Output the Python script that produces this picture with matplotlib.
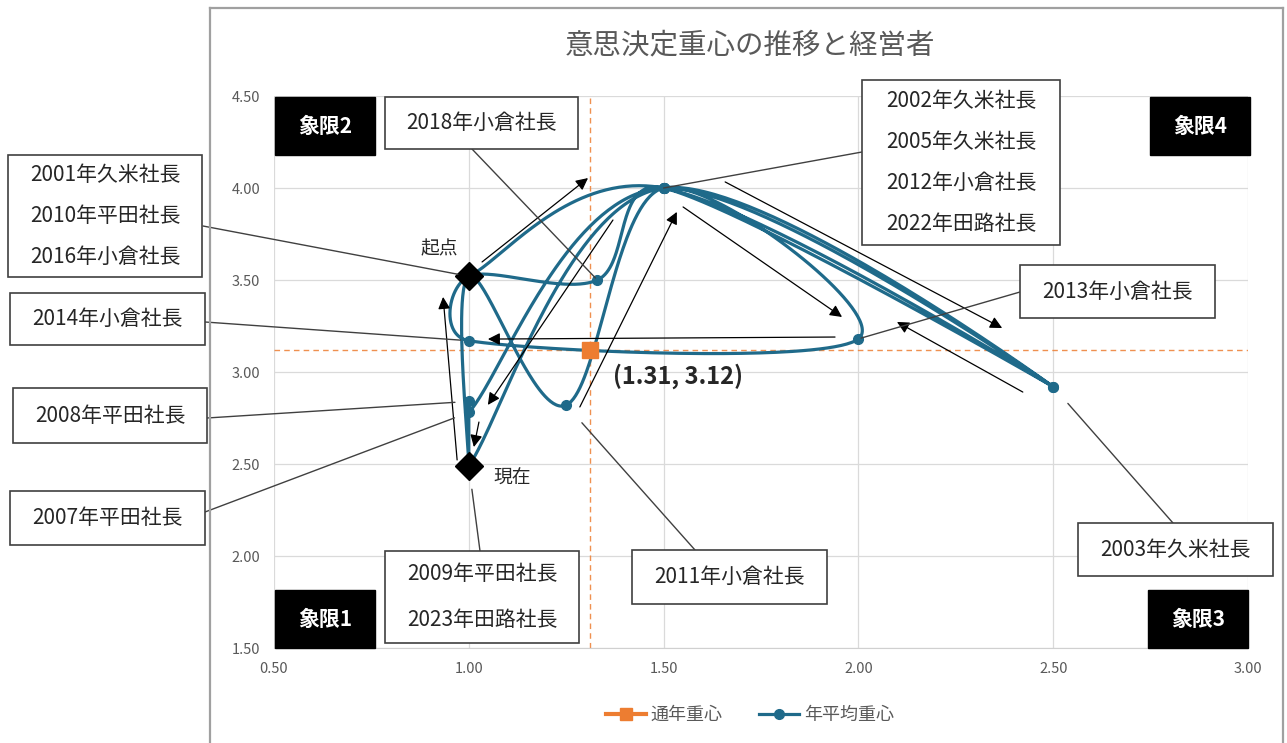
import numpy as np
import matplotlib
matplotlib.use("Agg")
import matplotlib.pyplot as plt
from matplotlib.patches import Rectangle
from matplotlib.lines import Line2D

plt.rcParams['font.family'] = ['Noto Sans CJK JP', 'DejaVu Sans']

# ---------------------------------------------------------------------------
# Datos
# ---------------------------------------------------------------------------
TITLE = "意思決定重心の推移と経営者"

# recorrido del centro de gravedad anual (2001 -> 2023), sin repeticiones seguidas
path_x = [1.00, 1.50, 2.50, 1.50, 1.00, 1.00, 1.00, 1.00, 1.25, 1.50,
          2.00, 1.00, 1.00, 1.33, 1.50, 2.50, 1.50, 1.00]
path_y = [3.52, 4.00, 2.92, 4.00, 2.78, 2.84, 2.49, 3.52, 2.82, 4.00,
          3.18, 3.17, 3.52, 3.50, 4.00, 2.92, 4.00, 2.49]

overall_x = 1.31
overall_y = 3.12

x_ticks = [0.5, 1.0, 1.5, 2.0, 2.5, 3.0]
y_ticks = [1.5, 2.0, 2.5, 3.0, 3.5, 4.0, 4.5]

legend_labels = ["通年重心", "年平均重心"]
quadrants = ["象限1", "象限2", "象限3", "象限4"]

lbl_start = ["2001年久米社長", "2010年平田社長", "2016年小倉社長"]
lbl_top = ["2002年久米社長", "2005年久米社長", "2012年小倉社長", "2022年田路社長"]
lbl_now = ["2009年平田社長", "2023年田路社長"]
lbl_2003 = ["2003年久米社長"]
lbl_2007 = ["2007年平田社長"]
lbl_2008 = ["2008年平田社長"]
lbl_2011 = ["2011年小倉社長"]
lbl_2013 = ["2013年小倉社長"]
lbl_2014 = ["2014年小倉社長"]
lbl_2018 = ["2018年小倉社長"]

BLUE = "#1F6A8A"
ORANGE = "#ED7D31"
GRAY = "#595959"
W, H = 1287, 743
SX, SY = 389.6, 184.0   # pixeles por unidad en x / y


def _clamp(v, lim):
    n = np.linalg.norm(v)
    return v if n <= lim or n == 0 else v * lim / n


def smooth(xs, ys, n=80):
    """Curva suavizada tipo Excel (Catmull-Rom -> Bezier), tangentes limitadas."""
    P = np.column_stack([np.asarray(xs) * SX, np.asarray(ys) * SY])
    pts = np.vstack([P[0], P, P[-1]])
    t = np.linspace(0, 1, n)[:, None]
    out = []
    for i in range(1, len(pts) - 2):
        p0, p1, p2, p3 = pts[i - 1:i + 3]
        d12 = np.linalg.norm(p2 - p1)
        c1 = p1 + _clamp((p2 - p0) / 6, 0.45 * d12)
        c2 = p2 - _clamp((p3 - p1) / 6, 0.45 * d12)
        out.append((1 - t) ** 3 * p1 + 3 * (1 - t) ** 2 * t * c1
                   + 3 * (1 - t) * t ** 2 * c2 + t ** 3 * p2)
    out = np.vstack(out)
    return out[:, 0] / SX, out[:, 1] / SY


def fp(x, y):
    # pixel (origen arriba-izquierda) -> fraccion de figura
    return (x / W, 1 - y / H)


fig = plt.figure(figsize=(W / 100, H / 100), dpi=100)
ax = fig.add_axes([274 / W, 1 - 648 / H, 974 / W, 552 / H])

# marco exterior del grafico
for xs_, ys_ in [([210, 210], [8, 743]), ([210, 1283], [8, 8]), ([1283, 1283], [8, 743])]:
    fig.add_artist(Line2D([x / W for x in xs_], [1 - y / H for y in ys_],
                          transform=fig.transFigure, color="#A0A0A0", lw=1.6))

fig.text(750 / W, 1 - 45 / H, TITLE, ha="center", va="center", fontsize=20.5, color=GRAY)

# ejes
ax.set_xlim(0.5, 3.0)
ax.set_ylim(1.5, 4.5)
ax.set_xticks(x_ticks)
ax.set_yticks(y_ticks)
ax.set_xticklabels([f"{v:.2f}" for v in x_ticks])
ax.set_yticklabels([f"{v:.2f}" for v in y_ticks])
ax.tick_params(length=0, labelsize=10.5, labelcolor=GRAY, pad=10)
ax.grid(True, color="#DADADA", lw=0.9)
ax.set_axisbelow(True)
for s in ax.spines.values():
    s.set_visible(False)
ax.spines["bottom"].set_visible(True)
ax.spines["bottom"].set_color("#D0D0D0")

# lineas del centro anual
ax.axvline(overall_x, color=ORANGE, lw=1.0, ls=(0, (4, 3)), alpha=0.85, zorder=2)
ax.axhline(overall_y, color=ORANGE, lw=1.0, ls=(0, (4, 3)), alpha=0.85, zorder=2)

cx, cy = smooth(path_x, path_y)
ax.plot(cx, cy, color=BLUE, lw=2.3, zorder=3, solid_capstyle="round")
ax.plot(path_x[1:-1], path_y[1:-1], "o", color=BLUE, ms=7, zorder=4)
ax.plot([path_x[0], path_x[-1]], [path_y[0], path_y[-1]], "D", color="black", ms=14, zorder=5)
ax.plot(overall_x, overall_y, "s", color=ORANGE, ms=11, zorder=5)

ax.annotate("起点", (path_x[0], path_y[0]), xytext=(-30, 27), textcoords="offset pixels",
            ha="center", va="center", fontsize=13.5, color="#262626")
ax.annotate("現在", (path_x[-1], path_y[-1]), xytext=(43, -12), textcoords="offset pixels",
            ha="center", va="center", fontsize=13.5, color="#262626")
ax.annotate(f"({overall_x:.2f}, {overall_y:.2f})", (overall_x, overall_y), xytext=(88, -26),
            textcoords="offset pixels", ha="center", va="center", fontsize=17,
            fontweight="bold", color="#262626")

# flechas de direccion (cola, cabeza)
arrows = [
    ((1.034, 3.598), (1.306, 4.054)),
    ((0.970, 2.522), (0.934, 3.408)),
    ((1.370, 3.826), (1.049, 2.821)),
    ((1.026, 2.728), (1.013, 2.592)),
    ((1.285, 2.810), (1.534, 3.870)),
    ((1.550, 3.897), (1.958, 3.299)),
    ((1.658, 4.033), (2.369, 3.239)),
    ((2.422, 2.891), (2.099, 3.272)),
    ((1.940, 3.190), (1.049, 3.179)),
]
for tail, head in arrows:
    ax.annotate("", xy=head, xytext=tail,
                arrowprops=dict(arrowstyle="-|>", color="black", lw=0.9,
                                mutation_scale=18, shrinkA=0, shrinkB=0), zorder=6)


def label_box(x0, y0, x1, y1, lines, src, pt, shrink):
    fig.add_artist(Rectangle(fp(x0, y1), (x1 - x0) / W, (y1 - y0) / H,
                             transform=fig.transFigure, fc="white", ec="#404040",
                             lw=1.2, zorder=5))
    step = (y1 - y0) / len(lines)
    for k, s in enumerate(lines):
        ty = y0 + step * (k + 0.5)
        fig.text((x0 + x1) / 2 / W, 1 - ty / H, s, ha="center", va="center",
                 fontsize=15, color="#262626", zorder=6)
    ax.annotate("", xy=pt, xycoords="data", xytext=fp(*src), textcoords="figure fraction",
                arrowprops=dict(arrowstyle="-", color="#404040", lw=1.0,
                                shrinkA=0, shrinkB=shrink),
                annotation_clip=False, zorder=6)


label_box(8, 155, 202, 277, lbl_start, (203, 226), (path_x[0], path_y[0]), 8)
label_box(10, 293, 205, 345, lbl_2014, (205, 322), (path_x[11], path_y[11]), 6)
label_box(13, 388, 207, 443, lbl_2008, (207, 418), (path_x[5], path_y[5]), 10)
label_box(10, 491, 205, 545, lbl_2007, (205, 512), (path_x[4], path_y[4]), 11)
label_box(385, 551, 579, 643, lbl_now, (480, 551), (path_x[-1], path_y[-1]), 17)
label_box(632, 550, 827, 604, lbl_2011, (695, 550), (path_x[8], path_y[8]), 17)
label_box(385, 97, 578, 149, lbl_2018, (472, 149), (path_x[13], path_y[13]), 2)
label_box(862, 80, 1060, 245, lbl_top, (862, 152), (path_x[1], path_y[1]), 0)
label_box(1020, 265, 1215, 318, lbl_2013, (1020, 292), (path_x[10], path_y[10]), 2)
label_box(1078, 523, 1273, 576, lbl_2003, (1173, 523), (path_x[2], path_y[2]), 16)

# cuadrantes
quad_pos = [(275, 590), (275, 97), (1148, 590), (1150, 97)]
for name, (qx, qy) in zip(quadrants, quad_pos):
    fig.add_artist(Rectangle(fp(qx, qy + 58), 100 / W, 58 / H, transform=fig.transFigure,
                             fc="black", ec="black", zorder=5))
    fig.text((qx + 50) / W, 1 - (qy + 29) / H, name, ha="center", va="center",
             fontsize=15, fontweight="bold", color="white", zorder=6)

handles = [
    Line2D([], [], color=ORANGE, lw=3, marker="s", ms=9),
    Line2D([], [], color=BLUE, lw=2.3, marker="o", ms=7),
]
fig.legend(handles, legend_labels, loc="center", bbox_to_anchor=fp(750, 715), ncol=2,
           frameon=False, fontsize=13, labelcolor=GRAY, handlelength=2.2,
           handletextpad=0.3, columnspacing=2.0)

fig.savefig("out.png", dpi=100, facecolor="white")
